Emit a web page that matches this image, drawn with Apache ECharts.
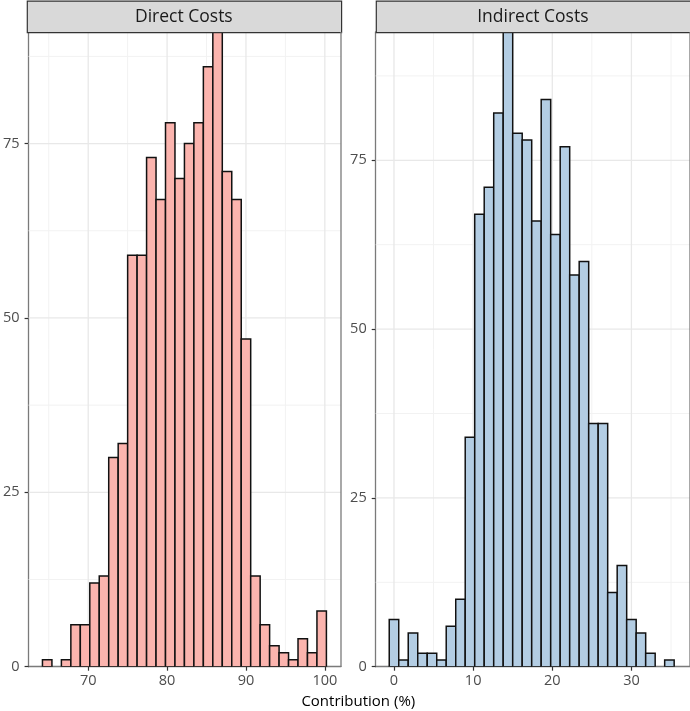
<!DOCTYPE html>
<html><head><meta charset="utf-8">
<script src="https://cdn.jsdelivr.net/npm/echarts@6/dist/echarts.min.js"></script>
<style>html,body{margin:0;padding:0;background:#fff}#c{width:690px;height:711px}</style>
</head><body><div id="c"></div>
<script>
const panelTitles = ['Direct Costs', 'Indirect Costs'];
const axisTitle = 'Contribution (%)';
const binWidth = 1.2;
const directBinStart = 64.2;
const indirectBinStart = -0.6;
const directCounts = [1,0,1,6,6,12,13,30,32,59,59,73,67,78,70,75,78,86,91,71,67,47,13,6,3,2,1,4,2,8];
const indirectCounts = [7,1,5,2,2,1,6,10,34,67,71,82,94,79,78,66,84,64,77,58,60,36,36,11,15,7,5,2,0,1];
const directXTicks = [70, 80, 90, 100];
const directXMinor = [65, 75, 85, 95];
const indirectXTicks = [0, 10, 20, 30];
const indirectXMinor = [5, 15, 25, 35];
const yTicks = [0, 25, 50, 75];
const yMinor = [12.5, 37.5, 62.5, 87.5];
const directXRange = [62.44, 102.05];
const indirectXRange = [-2.31, 37.4];
const directYMax = 91;
const indirectYMax = 94;

const FONT = 'Open Sans';
const fills = ['#FBB4AE', '#B3CDE3'];
const G = [
  {left: 26.7, top: 32, width: 314.3, height: 634.7},
  {left: 375.7, top: 32, width: 314.3, height: 634.7}
];

function binData(start, counts) {
  const out = [];
  counts.forEach((c, i) => { if (c > 0) out.push([start + i * binWidth, start + (i + 1) * binWidth, c]); });
  return out;
}
function gridData(xMaj, xMin, yMaj, yMin) {
  const d = [];
  xMin.forEach(v => d.push([v, 0, 1]));
  yMin.forEach(v => d.push([v, 1, 1]));
  xMaj.forEach(v => d.push([v, 0, 0]));
  yMaj.filter(v => v !== 0).forEach(v => d.push([v, 1, 0]));
  return d;
}
function gridRender(xr, ymax) {
  return function (params, api) {
    const v = api.value(0), orient = api.value(1), minor = api.value(2);
    let p1, p2;
    if (orient === 0) { p1 = api.coord([v, 0]); p2 = api.coord([v, ymax]); }
    else { p1 = api.coord([xr[0], v]); p2 = api.coord([xr[1], v]); }
    return {type: 'line', shape: {x1: p1[0], y1: p1[1], x2: p2[0], y2: p2[1]},
      style: {stroke: minor ? '#F2F2F2' : '#E8E8E8', lineWidth: minor ? 1 : 1.3}};
  };
}
function histRender(fill) {
  return function (params, api) {
    const a = api.coord([api.value(0), api.value(2)]);
    const b = api.coord([api.value(1), 0]);
    return {type: 'rect', shape: {x: a[0], y: a[1], width: b[0] - a[0], height: b[1] - a[1]},
      style: {fill: fill, stroke: '#111', lineWidth: 1.5}};
  };
}
function xAxis(idx, range, ticks) {
  return {type: 'value', gridIndex: idx, min: range[0], max: range[1],
    axisLine: {show: true, onZero: false, lineStyle: {color: '#7A7A7A', width: 1.3}},
    axisTick: {show: true, length: 4, customValues: ticks, lineStyle: {color: '#333', width: 1.2}},
    axisLabel: {show: true, customValues: ticks, margin: 7, color: '#4D4D4D', fontFamily: FONT, fontSize: 14.5},
    splitLine: {show: false}};
}
function yAxis(idx, ymax) {
  return {type: 'value', gridIndex: idx, min: 0, max: ymax,
    axisLine: {show: true, onZero: false, lineStyle: {color: '#7A7A7A', width: 1.3}},
    axisTick: {show: true, length: 4, customValues: yTicks, lineStyle: {color: '#333', width: 1.2}},
    axisLabel: {show: true, customValues: yTicks, margin: 9, color: '#4D4D4D', fontFamily: FONT, fontSize: 14.5},
    splitLine: {show: false}};
}

const chart = echarts.init(document.getElementById('c'), null, {renderer: 'canvas'});
const graphics = [];
G.forEach((g, i) => {
  graphics.push({type: 'rect', left: g.left, top: 0.5, shape: {x: 0, y: 0, width: g.width, height: 31.5},
    style: {fill: '#D9D9D9', stroke: '#333', lineWidth: 1.2}, z: 10});
  graphics.push({type: 'text', x: g.left + g.width / 2, y: 17, z: 11,
    style: {text: panelTitles[i], fontFamily: FONT, fontSize: 17.5, fill: '#1A1A1A', textAlign: 'center', textVerticalAlign: 'middle'}});
  graphics.push({type: 'line', shape: {x1: g.left + g.width, y1: 32, x2: g.left + g.width, y2: 32 + g.height},
    style: {stroke: '#7A7A7A', lineWidth: 1.3}, z: 10});
});
graphics.push({type: 'text', x: 358.3, y: 701.5, z: 11,
  style: {text: axisTitle, fontFamily: FONT, fontSize: 15, fill: '#000', textAlign: 'center', textVerticalAlign: 'middle'}});

chart.setOption({
  animation: false,
  backgroundColor: '#fff',
  grid: G.map(g => Object.assign({containLabel: false}, g)),
  xAxis: [xAxis(0, directXRange, directXTicks), xAxis(1, indirectXRange, indirectXTicks)],
  yAxis: [yAxis(0, directYMax), yAxis(1, indirectYMax)],
  graphic: graphics,
  series: [
    {type: 'custom', xAxisIndex: 0, yAxisIndex: 0, z: 1, silent: true, clip: true,
      renderItem: gridRender(directXRange, directYMax), data: gridData(directXTicks, directXMinor, yTicks, yMinor)},
    {type: 'custom', xAxisIndex: 1, yAxisIndex: 1, z: 1, silent: true, clip: true,
      renderItem: gridRender(indirectXRange, indirectYMax), data: gridData(indirectXTicks, indirectXMinor, yTicks, yMinor)},
    {type: 'custom', xAxisIndex: 0, yAxisIndex: 0, z: 2, clip: true,
      renderItem: histRender(fills[0]), data: binData(directBinStart, directCounts)},
    {type: 'custom', xAxisIndex: 1, yAxisIndex: 1, z: 2, clip: true,
      renderItem: histRender(fills[1]), data: binData(indirectBinStart, indirectCounts)}
  ]
});
</script></body></html>
